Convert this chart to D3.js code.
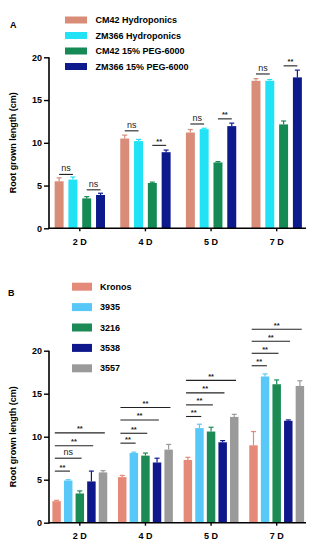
<!DOCTYPE html>
<html><head><meta charset="utf-8">
<script src="https://cdn.jsdelivr.net/npm/d3@7/dist/d3.min.js"></script>
<style>body{margin:0;background:#fff}svg{display:block;font-family:"Liberation Sans",Arial,sans-serif}</style>
</head><body><svg id="c" width="322" height="550"></svg>
<script>
const groups = ["2 D","4 D","5 D","7 D"];
const yTicks = [0,5,10,15,20];

// Panel A
const seriesA = ["CM42 Hydroponics","ZM366 Hydroponics","CM42 15% PEG-6000","ZM366 15% PEG-6000"];
const colorsA = ["#d98c78","#22e2f6","#168a54","#0d1a8c"];
const valuesA = [
  [5.5, 10.5, 11.2, 17.25],
  [5.7, 10.2, 11.6, 17.25],
  [3.5, 5.3, 7.7, 12.15],
  [3.9, 8.9, 11.95, 17.65]
];
const errorsA = [
  [0.4, 0.4, 0.35, 0.25],
  [0.3, 0.2, 0.1, 0.15],
  [0.2, 0.1, 0.1, 0.4],
  [0.2, 0.25, 0.35, 0.85]
];
// significance: group, from series, to series, label, level (cm)
const sigA = [
  ["2 D",0,1,"ns",6.3],["2 D",2,3,"ns",4.5],
  ["4 D",0,1,"ns",11.4],["4 D",2,3,"**",9.7],
  ["5 D",0,1,"ns",12.2],["5 D",2,3,"**",12.8],
  ["7 D",0,1,"ns",18.05],["7 D",2,3,"**",19.0]
];

// Panel B
const seriesB = ["Kronos","3935","3216","3538","3557"];
const colorsB = ["#e58a78","#58c8f8","#1b8a55","#0e178b","#9a9a9a"];
const valuesB = [
  [2.5, 5.3, 7.3, 9.0],
  [4.9, 8.1, 11.0, 17.0],
  [3.4, 7.8, 10.6, 16.1],
  [4.8, 7.0, 9.35, 11.85],
  [5.85, 8.5, 12.3, 15.9]
];
const errorsB = [
  [0.1, 0.2, 0.3, 1.6],
  [0.1, 0.1, 0.45, 0.3],
  [0.3, 0.3, 0.5, 0.5],
  [1.2, 0.5, 0.2, 0.1],
  [0.2, 0.6, 0.3, 0.6]
];
const sigB = [
  ["2 D",0,1,"**",6.0],["2 D",0,2,"ns",7.5],["2 D",0,3,"**",8.95],["2 D",0,4,"**",10.45],
  ["4 D",0,1,"**",9.25],["4 D",0,2,"**",10.4],["4 D",0,3,"**",11.95],["4 D",0,4,"**",13.4],
  ["5 D",0,1,"**",12.35],["5 D",0,2,"**",13.7],["5 D",0,3,"**",15.1],["5 D",0,4,"**",16.55],
  ["7 D",0,1,"**",18.25],["7 D",0,2,"**",19.7],["7 D",0,3,"**",21.1],["7 D",0,4,"**",22.5]
];

const svg = d3.select("#c");

function panel(cfg){
  const g = svg.append("g");
  const y = d3.scaleLinear().domain([0,20]).range([cfg.y0, cfg.y20]);
  const x0 = d3.scaleBand().domain(groups).range([47,309.5]).paddingInner(0).paddingOuter(0);
  const x1 = d3.scaleBand().domain(d3.range(cfg.series.length)).range([-cfg.inner/2, cfg.inner/2])
    .paddingInner(cfg.pad).paddingOuter(cfg.pad/2);
  const cx = (gr,s)=> x0(gr)+x0.bandwidth()/2 + x1(s) + x1.bandwidth()/2;

  // bars
  cfg.series.forEach((name,s)=>{
    groups.forEach((gr,i)=>{
      const v = cfg.values[s][i], e = cfg.errors[s][i];
      const bx = x0(gr)+x0.bandwidth()/2 + x1(s);
      g.append("rect").attr("x",bx).attr("width",x1.bandwidth())
        .attr("y",y(v)).attr("height",y(0)-y(v)).attr("fill",cfg.colors[s]);
      const c = cx(gr,s);
      g.append("line").attr("x1",c).attr("x2",c).attr("y1",y(v)).attr("y2",y(v+e))
        .attr("stroke",cfg.colors[s]).attr("stroke-width",1.2);
      g.append("line").attr("x1",c-2.5).attr("x2",c+2.5).attr("y1",y(v+e)).attr("y2",y(v+e))
        .attr("stroke",cfg.colors[s]).attr("stroke-width",1.2);
    });
  });

  // axes
  const ya = g.append("g").attr("transform","translate(49,0)")
    .call(d3.axisLeft(y).tickValues(yTicks).tickSize(5).tickSizeOuter(0).tickPadding(2));
  ya.select(".domain").attr("stroke","#000").attr("stroke-width",1.6).attr("d",`M0,${cfg.y0+0.8}V${cfg.y20}`);
  ya.selectAll(".tick line").attr("stroke","#000").attr("stroke-width",1.4);
  ya.selectAll(".tick text").attr("font-size",9).attr("font-weight","bold").attr("fill","#000")
    .attr("font-family","Liberation Sans, Arial, sans-serif");

  const xa = g.append("g").attr("transform",`translate(0,${cfg.y0})`)
    .call(d3.axisBottom(x0).tickSize(3).tickSizeOuter(0).tickPadding(7));
  xa.select(".domain").attr("stroke","#000").attr("stroke-width",1.6).attr("d","M49,0H306");
  xa.selectAll(".tick line").attr("stroke","#000").attr("stroke-width",1.4);
  xa.selectAll(".tick text").attr("font-size",9).attr("font-weight","bold").attr("fill","#000")
    .attr("font-family","Liberation Sans, Arial, sans-serif");

  // y label
  g.append("text").attr("transform",`translate(16,${(cfg.y0+cfg.y20)/2}) rotate(-90)`)
    .attr("text-anchor","middle").attr("font-size",9).attr("font-weight","bold")
    .text("Root grown length (cm)");

  // significance
  cfg.sig.forEach(([gr,a,b,lab,lev])=>{
    const xa_ = cx(gr,a)-cfg.sigExt, xb_ = cx(gr,b)+cfg.sigExt;
    const yy = y(lev);
    g.append("line").attr("x1",xa_).attr("x2",xb_).attr("y1",yy).attr("y2",yy)
      .attr("stroke","#222").attr("stroke-width",1.1);
    g.append("text").attr("x",(xa_+xb_)/2).attr("y", lab==="ns" ? yy-3 : yy-1.5)
      .attr("text-anchor","middle").attr("font-size", lab==="ns" ? 9 : 7.5)
      .attr("font-weight", lab==="ns" ? "normal" : "bold").attr("fill","#222").text(lab);
  });

  // legend
  cfg.series.forEach((name,s)=>{
    const yy = cfg.legY + s*cfg.legStep;
    g.append("rect").attr("x",cfg.legX).attr("y",yy-cfg.swH/2).attr("width",cfg.swW).attr("height",cfg.swH)
      .attr("fill",cfg.colors[s]);
    g.append("text").attr("x",cfg.legTX).attr("y",yy).attr("dy","0.35em")
      .attr("font-size",9).attr("font-weight","bold").text(name);
  });

  g.append("text").attr("x",cfg.labX).attr("y",cfg.labY).attr("font-size",9)
    .attr("font-weight","bold").text(cfg.label);
}

panel({series:seriesA, colors:colorsA, values:valuesA, errors:errorsA, sig:sigA,
  y0:228.3, y20:57.3, inner:55.2, pad:0.35, sigExt:0,
  legX:65, legTX:95.5, legY:20, legStep:15.5, swW:22, swH:7, label:"A", labX:10, labY:28});
panel({series:seriesB, colors:colorsB, values:valuesB, errors:errorsB, sig:sigB,
  y0:522.7, y20:350.7, inner:58, pad:0.27, sigExt:1.8,
  legX:72, legTX:100, legY:286.7, legStep:20.4, swW:20, swH:8, label:"B", labX:8, labY:296});
</script></body></html>
